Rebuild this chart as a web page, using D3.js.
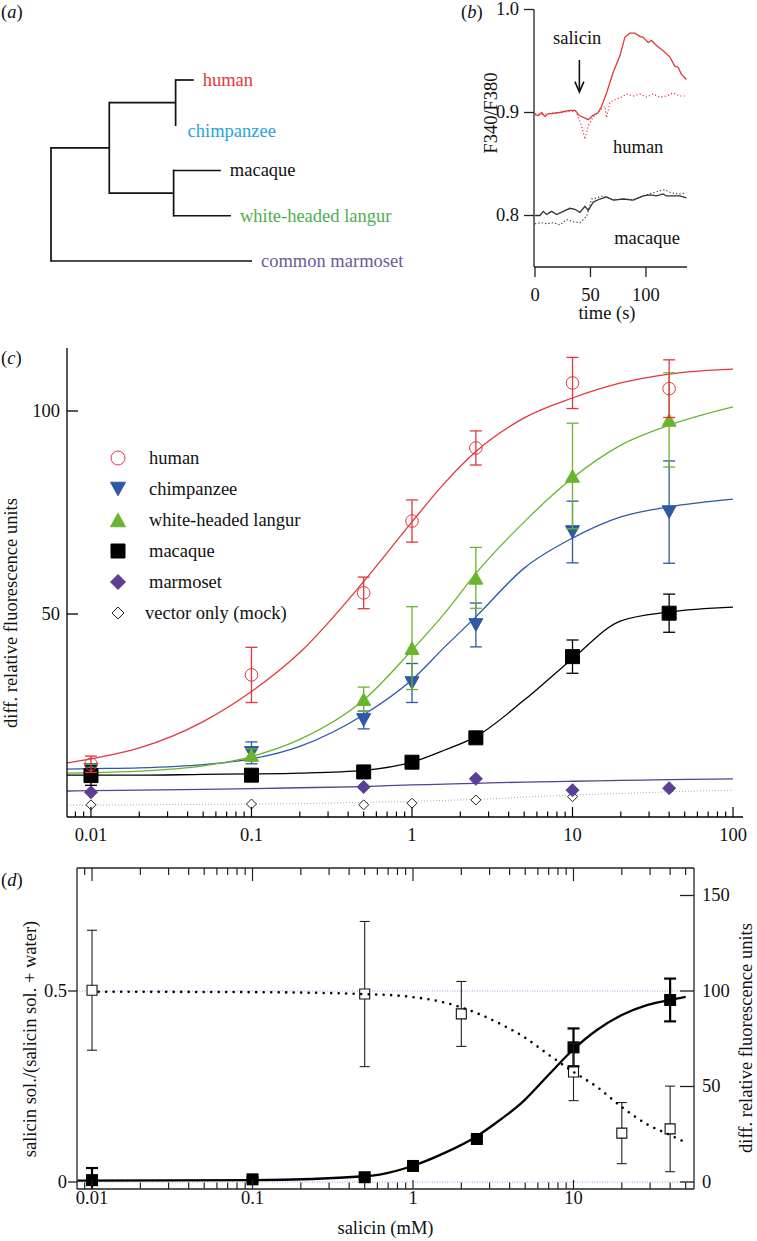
<!DOCTYPE html>
<html><head><meta charset="utf-8">
<script src="https://cdn.jsdelivr.net/npm/d3@7"></script>
<style>body{margin:0;background:#fff}svg{display:block}
svg text{font-family:"Liberation Serif","Tinos","Times New Roman","Nimbus Roman","DejaVu Serif",serif;}</style>
</head><body>
<svg id="fig" width="757" height="1241"></svg>
<script>
// ================= DATA =================
// (a) tree: branch lengths (relative units) and leaf colours
const treeLabels = ["human","chimpanzee","macaque","white-headed langur","common marmoset"];
const treeLabelColors = ["#e2383d","#27a3dc","#111111","#4caf50","#6e5a92"];
const treeData = {len:0, children:[
  {len:0.29, children:[
    {len:0.33, children:[{name:"human",len:0.09},{name:"chimpanzee",len:0}]},
    {len:0.32, children:[{name:"macaque",len:0.235},{name:"white-headed langur",len:0.285}]}
  ]},
  {name:"common marmoset", len:1.0}
]};

// (b) Ca imaging traces
const bXTicks = [0,50,100];
const bYTicks = [0.8,0.9,1.0];
const humanSolidT = [0,3,6,9,12,15,22,31,36,40,48,52,57,60,64.5,70.5,76.5,81,85.5,90,94.5,97.5,102,105,109.5,115.5,121.5,126,129,132,136.5];
const humanSolidV = [0.898,0.897,0.900,0.896,0.899,0.899,0.900,0.902,0.902,0.897,0.893,0.897,0.900,0.906,0.919,0.939,0.955,0.973,0.977,0.977,0.974,0.973,0.968,0.970,0.965,0.960,0.954,0.945,0.944,0.937,0.932];
const humanDotT = [0,6,12,18,24,30,37,42,45,48,52,58.5,63,64.5,67.5,73.5,78,82.5,88.5,94.5,100.5,106.5,112.5,118.5,124.5,130.5,136.5];
const humanDotV = [0.899,0.898,0.899,0.900,0.900,0.901,0.901,0.887,0.874,0.887,0.895,0.902,0.906,0.895,0.910,0.913,0.915,0.918,0.916,0.918,0.915,0.918,0.915,0.916,0.919,0.916,0.916];
const macSolidT = [0,4.5,7.5,10.5,15,19.5,25.5,31.5,36,40.5,45,48,52.5,58.5,64.5,70.5,79.5,88.5,97.5,103.5,109.5,115.5,118.5,124.5,130.5,136.5];
const macSolidV = [0.800,0.800,0.804,0.801,0.804,0.801,0.804,0.807,0.806,0.803,0.809,0.805,0.813,0.816,0.818,0.815,0.816,0.815,0.819,0.820,0.819,0.821,0.819,0.819,0.819,0.817];
const macDotT = [0,6,10.5,16.5,22.5,28.5,34.5,40.5,46.5,51,55.5,61.5,70.5,79.5,88.5,97.5,103.5,112.5,117,123,130.5,136.5];
const macDotV = [0.792,0.793,0.792,0.793,0.791,0.796,0.794,0.793,0.799,0.816,0.817,0.819,0.815,0.816,0.815,0.819,0.821,0.824,0.825,0.822,0.821,0.822];

// (c) dose-response
const cXTickLabels = ["0.01","0.1","1","10","100"];
const cYTicks = [50,100];
const concC = [0.01,0.1,0.5,1,2.5,10,40];
const humanMean = [13.0,35.0,55.2,72.9,90.9,106.9,105.5];
const humanErr  = [2.0,6.8,3.9,5.2,4.2,6.3,7.1];
const chimpMean = [11.6,15.8,23.9,33.0,47.3,70.2,75.1];
const chimpErr  = [1.5,2.7,2.2,4.8,5.4,7.6,12.6];
const langurMean = [11.5,15.3,29.0,41.6,58.9,84.0,97.8];
const langurErr  = [1.5,1.5,3.0,10.2,7.5,13.0,11.6];
const macaqueMean = [10.2,10.3,11.1,13.5,19.5,39.5,50.2];
const macaqueErr  = [2.4,0.8,0.6,0.6,0.8,4.1,4.7];
const marmosetConc = [0.01,0.5,2.5,10,40];
const marmosetMean = [6.1,7.4,9.4,6.6,7.1];
const mockConc = [0.01,0.1,0.5,1,2.5,10];
const mockMean = [3.0,3.2,3.0,3.4,4.2,5.0];
const fitConc = [0.0071,0.01,0.02,0.05,0.1,0.2,0.5,1,1.6,2.5,5,10,20,40,100];
const humanFit   = [13.3,14.3,17.0,23.5,30.9,40.5,58.0,72.7,82.3,90.0,98.3,103.2,106.9,109.1,110.3];
const chimpFit   = [11.8,11.9,12.1,12.9,14.3,17.4,25.2,33.8,41.9,49.3,61.3,68.7,73.9,76.4,78.3];
const langurFit  = [10.8,10.9,11.3,12.6,14.9,19.1,28.8,41.1,50.2,60.0,72.7,83.5,91.6,96.5,101.0];
const macaqueFit = [10.3,10.3,10.3,10.5,10.6,10.8,11.5,13.5,16.5,19.8,28.8,39.0,48.3,50.5,51.7];
const marmosetFit= [6.4,6.5,6.6,6.8,7.0,7.2,7.5,7.9,8.1,8.3,8.6,8.8,9.0,9.2,9.4];
const mockFit    = [2.9,2.9,3.0,3.1,3.2,3.3,3.6,3.8,4.1,4.3,4.9,5.4,5.8,6.2,6.6];
const legendNames = ["human","chimpanzee","white-headed langur","macaque","marmoset","vector only (mock)"];

// (d) preference vs response
const dXTickLabels = ["0.01","0.1","1","10"];
const dYLeftTicks = [0,0.5];
const dYRightTicks = [0,50,100,150];
const concD = [0.01,0.1,0.5,1,2.5,10,40];
const respMean = [1.0,1.4,2.5,8.4,22.5,70.5,95.3];
const respErr  = [6.3,1.0,1.0,1.0,1.5,9.9,11.2];
const prefConc = [0.01,0.5,2,10,20,40];
const prefMean = [0.502,0.492,0.440,0.288,0.128,0.139];
const prefErr  = [0.157,0.190,0.085,0.075,0.080,0.112];
const respFitConc = [0.0081,0.1,0.5,0.62,1,1.6,2.5,3.3,4.9,6.8,10,14,20,29,40,50];
const respFit     = [0.7,1.0,3.0,3.9,8.5,15.5,24.0,31.0,42.5,55.0,69.5,79.6,87.4,92.7,95.3,96.9];
const prefFitConc = [0.011,0.1,0.5,1,1.6,2.5,3.3,4.9,6.8,10,14,20,29,40,48];
const prefFit     = [0.498,0.497,0.492,0.484,0.469,0.442,0.419,0.380,0.337,0.288,0.249,0.196,0.150,0.123,0.107];

// ================= DRAWING =================
const FS = 18.5;
const RED="#e2383d", BLUE="#2f58a6", GREEN="#6ab42e", PURPLE="#5b3e96", AX="#222";
const svg = d3.select("#fig");

function text(g, x, y, s, o={}) {
  const t = g.append("text").attr("x",x).attr("y",y)
    .style("font-size",FS+"px")
    .attr("fill",o.fill||"#111").attr("text-anchor",o.anchor||"start");
  if (o.rot) t.attr("transform",`rotate(${o.rot},${x},${y})`);
  if (o.dy) t.attr("dy",o.dy);
  t.text(s); return t;
}
function panelLabel(x, y, letter) {
  const t = svg.append("text").attr("x",x).attr("y",y).style("font-size",FS+"px").attr("fill","#111");
  t.append("tspan").text("(");
  t.append("tspan").style("font-style","italic").text(letter);
  t.append("tspan").text(")");
}
function line(g,x1,y1,x2,y2,stroke,w){
  return g.append("line").attr("x1",x1).attr("y1",y1).attr("x2",x2).attr("y2",y2)
    .attr("stroke",stroke||AX).attr("stroke-width",w||1.3);
}
function symPath(type, s) {
  const h = s/2;
  switch(type){
    case "circle": return d3.symbol(d3.symbolCircle, Math.PI*h*h)();
    case "square": return `M${-h},${-h}H${h}V${h}H${-h}Z`;
    case "diamond": return `M0,${-h}L${h},0L0,${h}L${-h},0Z`;
    case "triUp": { const th=s*0.9; return `M0,${-th/2}L${h},${th/2}L${-h},${th/2}Z`; }
    case "triDown": { const th=s*0.9; return `M0,${th/2}L${h},${-th/2}L${-h},${-th/2}Z`; }
  }
}

// ---------- (a) tree ----------
panelLabel(1, 18, "a");
{
  const g = svg.append("g");
  const root = d3.hierarchy(treeData);
  root.eachBefore(d => d.dist = (d.parent ? d.parent.dist : 0) + (d.data.len || 0));
  const leaves = root.leaves();
  leaves.forEach(d => d.order = treeLabels.indexOf(d.data.name));
  root.eachAfter(d => { if (d.children) d.order = d3.mean(d.children, c => c.order); });
  const tx = d3.scaleLinear().domain([0,1]).range([51,252]);
  const ty = d3.scaleLinear().domain([0,4]).range([80,261]);
  root.descendants().forEach(d => {
    if (d.parent) line(g, tx(d.parent.dist), ty(d.order), tx(d.dist), ty(d.order), "#111", 1.7);
    if (d.children) {
      const ys = d.children.map(c => ty(c.order));
      line(g, tx(d.dist), d3.min(ys)-0.85, tx(d.dist), d3.max(ys)+0.85, "#111", 1.7);
    }
  });
  const labelDy = {"chimpanzee":6};
  leaves.forEach(d => {
    const i = treeLabels.indexOf(d.data.name);
    text(g, tx(d.dist) + (d.data.name==="chimpanzee"?12:9), ty(d.order) + (labelDy[d.data.name]||0), d.data.name,
      {fill: treeLabelColors[i], dy:"0.32em"});
  });
}

// ---------- (b) traces ----------
panelLabel(461, 18, "b");
{
  const g = svg.append("g");
  const x = d3.scaleLinear().domain([0,137]).range([535,687]);
  const y = d3.scaleLinear().domain([0.75,1.0]).range([267,9.5]);
  const x0 = 534, yb = 267;
  line(g, x0, y(1.0), x0, yb);
  line(g, x0, yb, 687, yb);
  bYTicks.forEach(v => {
    line(g, x0-10, y(v), x0, y(v));
    text(g, x0-15, y(v), d3.format(".1f")(v), {anchor:"end", dy:"0.32em"});
  });
  bXTicks.forEach(v => {
    line(g, x(v), yb, x(v), yb+10);
    text(g, x(v), 295, v, {anchor:"middle", dy:"0.32em"});
  });
  text(g, 607, 313, "time (s)", {anchor:"middle", dy:"0.32em"});
  text(g, 497, 113, "F340/F380", {anchor:"middle", rot:-90});
  const ln = d3.line().x(d => x(d[0])).y(d => y(d[1]));
  const mk = (T,V) => T.map((t,i)=>[t,V[i]]);
  g.append("path").attr("d", ln(mk(humanDotT,humanDotV))).attr("fill","none").attr("stroke",RED).attr("stroke-width",1.2).attr("stroke-dasharray","1.2,2.2");
  g.append("path").attr("d", ln(mk(humanSolidT,humanSolidV))).attr("fill","none").attr("stroke",RED).attr("stroke-width",1.3);
  g.append("path").attr("d", ln(mk(macDotT,macDotV))).attr("fill","none").attr("stroke","#333").attr("stroke-width",1.2).attr("stroke-dasharray","1.2,2.2");
  g.append("path").attr("d", ln(mk(macSolidT,macSolidV))).attr("fill","none").attr("stroke","#333").attr("stroke-width",1.3);
  const ax = x(40);
  line(g, ax, y(0.951), ax, y(0.921), "#111", 1.6);
  g.append("path").attr("d", `M${ax-4.5},${y(0.930)}L${ax},${y(0.920)}L${ax+4.5},${y(0.930)}`).attr("fill","none").attr("stroke","#111").attr("stroke-width",1.6);
  text(g, x(38), y(0.972), "salicin", {anchor:"middle", dy:"0.32em"});
  text(g, x(93), 147, "human", {anchor:"middle", dy:"0.32em"});
  text(g, x(101), 238, "macaque", {anchor:"middle", dy:"0.32em"});
}

// ---------- (c) dose response ----------
panelLabel(1, 364, "c");
{
  const g = svg.append("g");
  const x = d3.scaleLog().domain([0.00709,115.4]).range([67,743]);
  const y = d3.scaleLinear().domain([0,100]).range([817,411]);
  const x0 = 67, yb = 817;
  const ln = d3.line().x(d=>x(d[0])).y(d=>y(d[1])).curve(d3.curveMonotoneX);
  const fit = (V) => fitConc.map((c,i)=>[c,V[i]]);
  g.append("path").attr("d", ln(fit(mockFit))).attr("fill","none").attr("stroke","#aaa").attr("stroke-width",1).attr("stroke-dasharray","1,2");
  g.append("path").attr("d", ln(fit(marmosetFit))).attr("fill","none").attr("stroke",PURPLE).attr("stroke-width",1.3);
  g.append("path").attr("d", ln(fit(macaqueFit))).attr("fill","none").attr("stroke","#000").attr("stroke-width",1.3);
  g.append("path").attr("d", ln(fit(chimpFit))).attr("fill","none").attr("stroke",BLUE).attr("stroke-width",1.3);
  g.append("path").attr("d", ln(fit(langurFit))).attr("fill","none").attr("stroke",GREEN).attr("stroke-width",1.3);
  g.append("path").attr("d", ln(fit(humanFit))).attr("fill","none").attr("stroke",RED).attr("stroke-width",1.3);

  function series(conc, mean, err, color, type, size, fill, stroke) {
    conc.forEach((c,i) => {
      if (err) {
        const cx = x(c), top = y(mean[i]+err[i]), bot = y(Math.max(0,mean[i]-err[i]));
        line(g, cx, top, cx, bot, color, 1.3);
        line(g, cx-6, top, cx+6, top, color, 1.3);
        line(g, cx-6, bot, cx+6, bot, color, 1.3);
      }
    });
    conc.forEach((c,i) => {
      g.append("path").attr("d", symPath(type,size)).attr("transform",`translate(${x(c)},${y(mean[i])})`)
        .attr("fill",fill).attr("stroke",stroke).attr("stroke-width",1);
    });
  }
  series(mockConc, mockMean, null, "#000", "diamond", 10, "#fff", "#222");
  series(marmosetConc, marmosetMean, null, PURPLE, "diamond", 13, PURPLE, PURPLE);
  series(concC, chimpMean, chimpErr, BLUE, "triDown", 14, BLUE, BLUE);
  series(concC, langurMean, langurErr, GREEN, "triUp", 14, GREEN, GREEN);
  series(concC, macaqueMean, macaqueErr, "#000", "square", 14, "#000", "#000");
  series(concC, humanMean, humanErr, RED, "circle", 12.6, "none", RED);

  line(g, x0, 348, x0, yb, "#000", 1.3);
  line(g, x0, yb, 743, yb, "#000", 1.3);
  cYTicks.forEach(v => {
    line(g, x0, y(v), x0+11, y(v), "#000", 1.3);
    text(g, 60, y(v), v, {anchor:"end", dy:"0.32em"});
  });
  x.ticks().forEach(t => {
    const major = Math.abs(Math.log10(t) - Math.round(Math.log10(t))) < 1e-9;
    line(g, x(t), yb, x(t), yb - (major?10:5.5), "#000", 1.2);
  });
  cXTickLabels.forEach(s => text(g, x(+s), 835, s, {anchor:"middle", dy:"0.32em"}));
  text(g, 17, 613, "diff. relative fluorescence units", {anchor:"middle", rot:-90});

  const lx = 118, ly0 = 458, lstep = 31;
  const legSym = [
    ["circle",14,"none",RED],["triDown",15,BLUE,BLUE],["triUp",15,GREEN,GREEN],
    ["square",14,"#000","#000"],["diamond",15,PURPLE,PURPLE],["diamond",12,"#fff","#222"]];
  legendNames.forEach((n,i) => {
    const yy = ly0 + i*lstep;
    const [tp,sz,fl,st] = legSym[i];
    g.append("path").attr("d", symPath(tp,sz)).attr("transform",`translate(${lx},${yy})`)
      .attr("fill",fl).attr("stroke",st).attr("stroke-width",1);
    text(g, i===5?145:149, yy, n, {dy:"0.32em"});
  });
}

// ---------- (d) ----------
panelLabel(1, 886, "d");
{
  const g = svg.append("g");
  const L=77, R=694, T=868, B=1189;
  const x = d3.scaleLog().domain([0.00806,56.34]).range([L,R]);
  const yL = d3.scaleLinear().domain([0,0.5]).range([1182,991]);
  const yR = d3.scaleLinear().domain([0,100]).range([1182,991]);
  svg.append("defs").append("clipPath").attr("id","clipd").append("rect").attr("x",L).attr("y",T).attr("width",R-L).attr("height",B-T);
  const pg = g.append("g").attr("clip-path","url(#clipd)");
  [0,0.5].forEach(v => line(pg, L, yL(v), R, yL(v), "#9c9ce0", 1).attr("stroke-dasharray","1,1.5"));
  const lnR = d3.line().x(d=>x(d[0])).y(d=>yR(d[1])).curve(d3.curveMonotoneX);
  const lnL = d3.line().x(d=>x(d[0])).y(d=>yL(d[1])).curve(d3.curveMonotoneX);
  pg.append("path").attr("d", lnR(respFitConc.map((c,i)=>[c,respFit[i]]))).attr("fill","none").attr("stroke","#000").attr("stroke-width",2.3);
  concD.forEach((c,i) => {
    const cx = x(c), top = yR(respMean[i]+respErr[i]), bot = yR(respMean[i]-respErr[i]);
    line(pg, cx, top, cx, bot, "#000", 2.2);
    line(pg, cx-6, top, cx+6, top, "#000", 2.2);
    line(pg, cx-6, bot, cx+6, bot, "#000", 2.2);
  });
  concD.forEach((c,i) => pg.append("path").attr("d", symPath("square",12)).attr("transform",`translate(${x(c)},${yR(respMean[i])})`).attr("fill","#000"));
  prefConc.forEach((c,i) => {
    const cx = x(c), top = yL(prefMean[i]+prefErr[i]), bot = yL(prefMean[i]-prefErr[i]);
    line(pg, cx, top, cx, bot, "#222", 1.1);
    line(pg, cx-5, top, cx+5, top, "#222", 1.1);
    line(pg, cx-5, bot, cx+5, bot, "#222", 1.1);
  });
  prefConc.forEach((c,i) => pg.append("path").attr("d", symPath("square",10)).attr("transform",`translate(${x(c)},${yL(prefMean[i])})`).attr("fill","#fff").attr("stroke","#111").attr("stroke-width",1.1));
  pg.append("path").attr("d", lnL(prefFitConc.map((c,i)=>[c,prefFit[i]]))).attr("fill","none").attr("stroke","#000").attr("stroke-width",2.6).attr("stroke-linecap","round").attr("stroke-dasharray","0,7.5");

  line(g, L, T, L, B, "#222", 1.3);
  line(g, R, T, R, B, "#222", 1.3);
  line(g, L, T, R, T, "#222", 1.3);
  line(g, L, B, R, B, "#222", 1.3);
  x.ticks().forEach(t => {
    const major = Math.abs(Math.log10(t) - Math.round(Math.log10(t))) < 1e-9;
    line(g, x(t), T, x(t), T + (major?13:7), "#222", 1.2);
    line(g, x(t), B, x(t), B - (major?9:6.5), "#222", 1.2);
  });
  dXTickLabels.forEach(s => text(g, x(+s), 1198, s, {anchor:"middle", dy:"0.32em"}));
  dYLeftTicks.forEach(v => {
    line(g, L-9, yL(v), L, yL(v), "#222", 1.3);
    text(g, 67, yL(v), v, {anchor:"end", dy:"0.32em"});
  });
  dYRightTicks.forEach(v => {
    line(g, R-14, yR(v), R, yR(v), "#222", 1.3);
    text(g, 702, yR(v), v, {dy:"0.32em"});
  });
  text(g, (L+R)/2, 1228, "salicin (mM)", {anchor:"middle", dy:"0.32em"});
  text(g, 36, 1039, "salicin sol./(salicin sol. + water)", {anchor:"middle", rot:-90});
  text(g, 752, 1038, "diff. relative fluorescence units", {anchor:"middle", rot:-90});
}
</script>
</body></html>
